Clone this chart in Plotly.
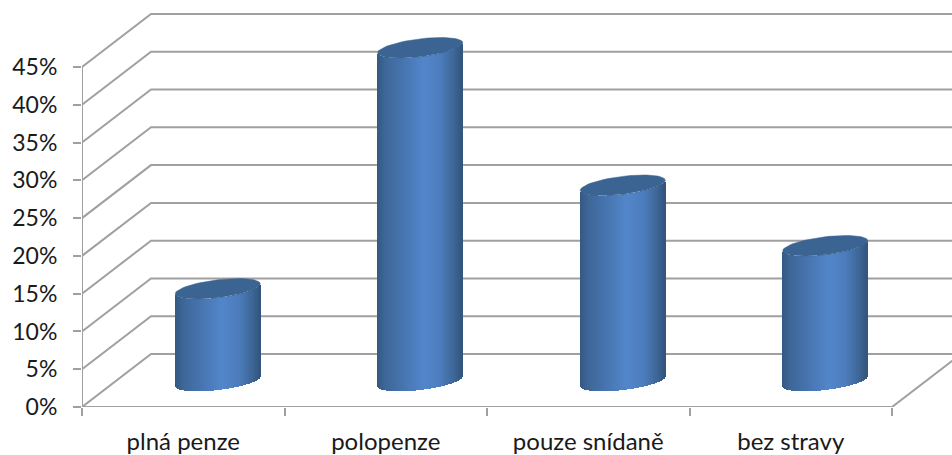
import math
import plotly.graph_objects as go

categories = ["plná penze", "polopenze", "pouze snídaně", "bez stravy"]
values = [12.2, 44.1, 25.9, 17.9]
y_ticks = [0, 5, 10, 15, 20, 25, 30, 35, 40, 45]
y_labels = ["0%", "5%", "10%", "15%", "20%", "25%", "30%", "35%", "40%", "45%"]

PX_X, PX_Y = 202.5, 7.556           # pixels per category, pixels per percent
W, H = 952, 455
ML, MB = 82, 48
XMAX = (W - ML) / PX_X
YMAX = (H - MB) / PX_Y
DX, DY = 69 / PX_X, 53 / PX_Y       # depth offset of the back wall
A = 42.5 / PX_X                     # cylinder half width
TILT, B = 5 / PX_Y, 9 / PX_Y        # ellipse tilt, ellipse half height
BASE_Y = 26 / PX_Y
GRID = "#a0a0a0"

STOPS = [(0, (52, 88, 130)), (.1, (62, 103, 152)), (.3, (70, 116, 174)), (.55, (82, 134, 203)),
         (.75, (76, 124, 188)), (.9, (62, 103, 152)), (1, (50, 84, 124))]


def grad(t):
    for (t0, c0), (t1, c1) in zip(STOPS, STOPS[1:]):
        if t <= t1:
            f = (t - t0) / (t1 - t0)
            return "rgb(%d,%d,%d)" % tuple(round(a + (b - a) * f) for a, b in zip(c0, c1))
    return "rgb(50,84,124)"


def line(x, y, w=2):
    return go.Scatter(x=x, y=y, mode="lines", line=dict(color=GRID, width=w), cliponaxis=False,
                      hoverinfo="skip", showlegend=False)


fig = go.Figure()

# back-wall gridlines with their side-wall diagonals
for v in y_ticks:
    fig.add_trace(line([0, DX, XMAX], [v, v + DY, v + DY]))
# axes and floor
fig.add_trace(line([0, 0], [0, y_ticks[-1]]))
fig.add_trace(line([0, len(categories)], [0, 0]))
fig.add_trace(line([len(categories), len(categories) + DX], [0, DY]))

# cylinder bodies as narrow gradient strips, on an overlay so they cover the gridlines
N = 85
xc = [i + 0.5 + DX / 2 for i in range(len(categories))]
for k in range(N):
    u = -1 + (2 * k + 1) / N
    lower = BASE_Y + TILT * u - B * math.sqrt(1 - u * u)
    fig.add_trace(go.Bar(x=[c + u * A for c in xc], y=values, base=[lower] * len(values),
                         width=1.3 / PX_X, marker=dict(color=grad((u + 1) / 2), line=dict(width=0)),
                         hoverinfo="skip", showlegend=False, xaxis="x2", yaxis="y2"))

# cylinder caps
M = 72
for c, v in zip(xc, values):
    xs, ys = [], []
    for j in range(M + 1):
        th = 2 * math.pi * j / M
        xs.append(c + A * math.cos(th))
        ys.append(BASE_Y + v + TILT * math.cos(th) + B * math.sin(th))
    fig.add_trace(go.Scatter(x=xs, y=ys, mode="lines", fill="toself", fillcolor="#3b6493",
                             line=dict(color="#3b6493", width=0.5), hoverinfo="skip",
                             showlegend=False, cliponaxis=False, xaxis="x2", yaxis="y2"))

fig.update_layout(
    width=W, height=H, autosize=False, barmode="overlay", bargap=0,
    margin=dict(l=ML, r=0, t=0, b=MB, pad=0),
    paper_bgcolor="white", plot_bgcolor="white", showlegend=False,
    font=dict(family="Lato", size=23, color="#1a1a1a"),
    xaxis=dict(range=[0, XMAX], tickmode="array",
               tickvals=[i + 0.5 for i in range(len(categories))], ticktext=categories,
               ticks="", showgrid=False, zeroline=False, showline=False,
               ticklabelstandoff=18, tickfont=dict(size=24),
               minor=dict(tickmode="array", tickvals=list(range(len(categories) + 1)),
                          ticks="outside", ticklen=8, tickwidth=2, tickcolor=GRID, showgrid=False)),
    yaxis=dict(range=[0, YMAX], tickmode="array", tickvals=y_ticks, ticktext=y_labels,
               ticks="outside", ticklen=8, tickwidth=2, tickcolor=GRID,
               showgrid=False, zeroline=False, showline=False, ticklabelstandoff=11),
    xaxis2=dict(range=[0, XMAX], overlaying="x", visible=False),
    yaxis2=dict(range=[0, YMAX], overlaying="y", visible=False),
)

fig.write_html("out.html", config={"displayModeBar": False},
               post_script="document.body.style.margin='0';document.body.style.overflow='hidden';")
